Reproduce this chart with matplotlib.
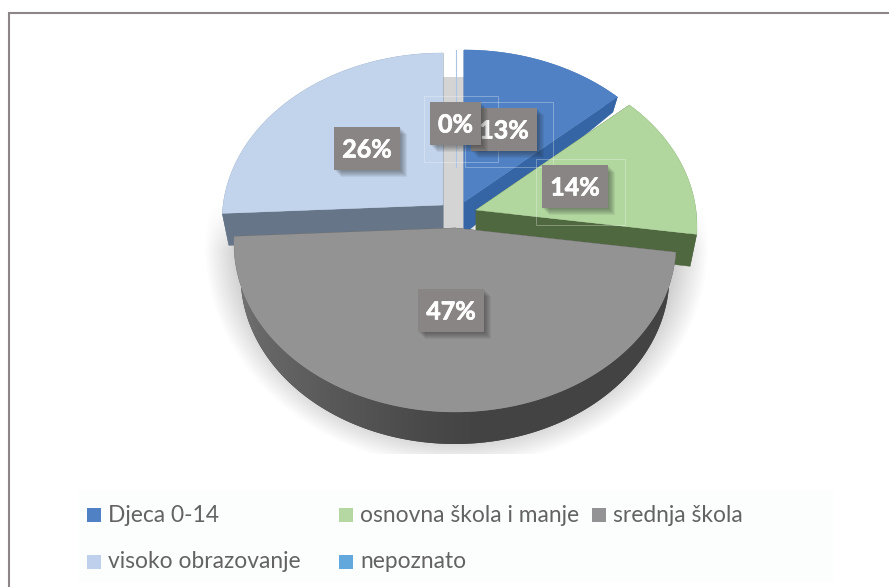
import numpy as np
import matplotlib
matplotlib.use('Agg')
import matplotlib.pyplot as plt
from matplotlib.colors import to_rgb
from matplotlib.patches import Polygon, Rectangle
import matplotlib.patheffects as pe

plt.rcParams['font.family'] = ['Lato', 'DejaVu Sans']

categories = ['Djeca 0-14', 'osnovna škola i manje', 'srednja škola',
              'visoko obrazovanje', 'nepoznato']
values = [13.3, 14.0, 46.9, 25.8, 0.0]
percent_labels = ['13%', '14%', '47%', '26%', '0%']

face_colors = ['#4f81c4', '#b1d69e', '#939393', '#c2d3ec', '#62a8dc']
side_colors = ['#3565a5', '#50683f', '#444444', '#667587', '#62a8dc']
legend_colors = ['#4f81c4', '#b5d8a2', '#939396', '#bfd0ec', '#62a8dc']

# apex of each exploded slice, in pixels
apexes = [(464, 202), (476, 210), (455, 228), (443, 205), (456, 202)]

label_boxes = [(471, 108), (542, 165), (418, 289), (334, 127), (430, 102)]
thin_frames = [(465, 102, 88, 65), (536, 159, 89, 66), (424, 96, 74, 66)]
legend_slots = [(88, 515), (340, 515), (593, 515), (88, 562), (340, 562)]

RX, RY, PERSP = 220, 166.5, 0.095


def project(theta):
    # simple perspective: the far edge of the pie is smaller than the near one
    u, v = np.sin(theta), np.cos(theta)
    d = 1 + PERSP * v
    return RX * u / d, -RY * v / d


def thickness(theta):
    v = np.cos(theta)
    return np.where(v > 0, 32 - 25 * v, 32.0)


def draw_slice(ax, apex, start, end, face, side, zorder, gradient=False):
    th = np.linspace(start, end, 160)
    dx, dy = project(th)
    tx, ty = apex[0] + dx, apex[1] + dy
    bx, by = apex[0] + dx * 0.97, apex[1] + dy + thickness(th)

    # cut faces first, then the outer wall, then the top
    for i in (0, -1):
        ax.add_patch(Polygon([apex, (tx[i], ty[i]), (bx[i], by[i]), (apex[0], apex[1] + 32)],
                             fc=side, ec=side, lw=0.3, zorder=zorder))
    wall = Polygon(list(zip(tx, ty)) + list(zip(bx[::-1], by[::-1])),
                   fc=side, ec='none', zorder=zorder)
    ax.add_patch(wall)
    if gradient:
        # wall gets lighter towards the left end
        x0, x1 = int(bx.min()) - 2, int(bx.max()) + 2
        stops_x = [x0, 260, 330, 420, 470, x1]
        stops_c = ['#747474', '#686868', '#595959', '#4a4a4a', '#444444', '#434343']
        xs = np.arange(x0, x1)
        rgb = np.array([to_rgb(c) for c in stops_c])
        img = np.stack([np.interp(xs, stops_x, rgb[:, j]) for j in range(3)], axis=-1)[None, :, :]
        im = ax.imshow(img, extent=(x0, x1, by.max() + 2, ty.min() - 2), aspect='auto',
                       zorder=zorder + 0.1, interpolation='bilinear')
        im.set_clip_path(wall)
    ax.add_patch(Polygon([apex] + list(zip(tx, ty)), fc=face, ec=face, lw=0.3, zorder=zorder + 0.5))


fig = plt.figure(figsize=(8.89, 5.87), dpi=100)
ax = fig.add_axes([0, 0, 1, 1])

# outer frame, only left and top are visible
ax.plot([9, 9, 889], [587, 13, 13], color='#8c8688', lw=1.5, zorder=1, solid_joinstyle='miter')

# soft shadow under the pie
yy, xx = np.mgrid[200:454, 200:715]
r = np.sqrt(((xx - 456) / 252.0) ** 2 + ((yy - 245) / 222.0) ** 2)
alpha = np.clip((1.0 - r) / 0.14, 0, 1) * 0.36
alpha *= np.clip((yy - 205) / 45.0, 0, 1)
shadow = np.zeros(xx.shape + (4,))
shadow[..., :3] = 0.45
shadow[..., 3] = alpha
ax.imshow(shadow, extent=(200, 715, 454, 200), zorder=1.5, aspect='auto', interpolation='bilinear')

# inner wall seen through the gap at twelve o'clock
ax.add_patch(Rectangle((443, 77), 21, 151, fc='#d4d4d4', ec='none', zorder=2))

# slices, angles come from the values
edges = np.cumsum([0] + values) / np.sum(values) * 2 * np.pi
draw_order = [4, 3, 0, 1, 2]
for k, idx in enumerate(draw_order):
    start, end = edges[idx], edges[idx + 1]
    if values[idx] == 0:
        # empty category is only a hairline, hidden lower down
        dx, dy = project(start)
        ax.plot([apexes[idx][0] + dx, apexes[idx][0]], [apexes[idx][1] + dy, 167],
                color='#a9c4e4', lw=0.8, zorder=3)
        continue
    draw_slice(ax, apexes[idx], start, end, face_colors[idx], side_colors[idx], 3 + k,
               gradient=idx == 2)

# thin frames left around the data labels
for x, y, w, h in thin_frames:
    ax.add_patch(Rectangle((x, y), w, h, fc='none', ec='white', lw=0.7, alpha=0.3, zorder=9))

# data labels
label_order = [3, 0, 1, 2, 4]
for k, idx in enumerate(label_order):
    x, y = label_boxes[idx]
    w = 51 if idx == 4 else 66
    for off in range(1, 8):
        ax.add_patch(Rectangle((x + off, y + off), w, 43, fc='#222222', ec='none', alpha=0.07,
                               zorder=10 + k))
    ax.add_patch(Rectangle((x, y), w, 43, fc='#8a8585', ec='none', zorder=10 + k + 0.2))
    ax.text(x + w / 2, y + 23, percent_labels[idx], color='white', fontsize=18, fontweight='bold',
            ha='center', va='center', zorder=10 + k + 0.4,
            path_effects=[pe.withStroke(linewidth=0.5, foreground='white')])

# legend
ax.add_patch(Rectangle((78, 490), 755, 92, fc='#fcfefd', ec='none', zorder=1.2))
for (x, y), name, c in zip(legend_slots, categories, legend_colors):
    ax.add_patch(Rectangle((x - 1, y - 7), 14, 14, fc=c, ec='none', zorder=2))
    ax.text(x + 20, y, name, color='#636363', fontsize=16.4, ha='left', va='center', zorder=2)

ax.set_xlim(0, 889)
ax.set_ylim(587, 0)
ax.axis('off')

fig.savefig('out.png', dpi=100, facecolor='white')
